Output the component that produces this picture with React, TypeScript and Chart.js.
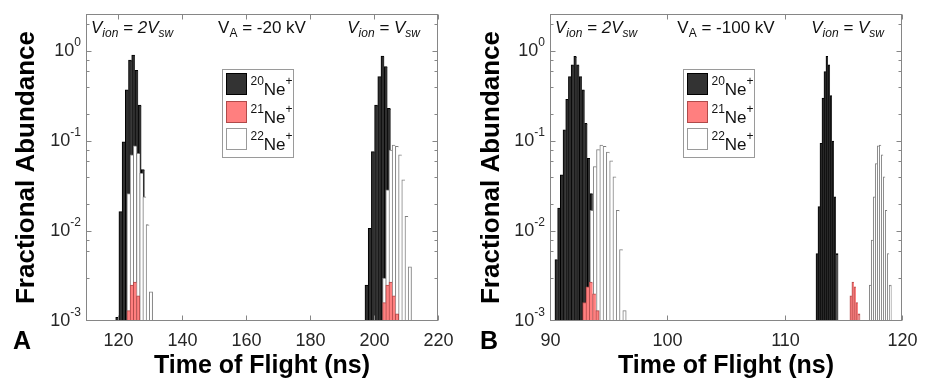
import React, { useEffect, useRef } from 'react';
import { Chart, registerables } from 'chart.js';

Chart.register(...registerables);

const FONT = "'Liberation Sans', Arial, Helvetica, sans-serif";

// ---------------- Panel A  (V_A = -20 kV), bins of ~1 ns ----------------
const aNe20LeftX = [119.8, 120.8, 121.8, 122.8, 123.8, 124.8, 125.8, 126.8, 127.8, 128.8];
const aNe20LeftY = [0.0011, 0.0164, 0.098, 0.37, 0.79, 0.9, 0.61, 0.25, 0.048, 0.0117];
const aNe21LeftX = [123.3, 124.3, 125.3, 126.3];
const aNe21LeftY = [0.0013, 0.0025, 0.0027, 0.0019];
const aNe22LeftX = [123.3, 124.3, 125.3, 126.3, 127.3, 128.3, 129.3, 130.3];
const aNe22LeftY = [0.026, 0.07, 0.088, 0.073, 0.044, 0.024, 0.0117, 0.0021];
const aNe20RightX = [197.7, 198.7, 199.7, 200.7, 201.7, 202.7, 203.7, 204.7, 205.7];
const aNe20RightY = [0.0025, 0.0107, 0.076, 0.25, 0.52, 0.88, 0.67, 0.23, 0.07];
const aNe21RightX = [203.2, 204.2, 205.2, 206.2, 207.2];
const aNe21RightY = [0.0016, 0.0025, 0.0027, 0.0019, 0.0012];
const aNe22RightX = [203.2, 204.2, 205.2, 206.2, 207.2, 208.2, 209.2, 210.2, 211.2];
const aNe22RightY = [0.003, 0.0286, 0.079, 0.09, 0.087, 0.07, 0.037, 0.0145, 0.004];
const aXTicks = [120, 140, 160, 180, 200, 220];

// ---------------- Panel B  (V_A = -100 kV) ----------------
const bNe20LeftX = [90.54, 90.77, 91.0, 91.23, 91.46, 91.69, 91.92, 92.15, 92.38, 92.61, 92.84, 93.07, 93.3, 93.53, 93.76];
const bNe20LeftY = [0.0048, 0.0179, 0.042, 0.133, 0.29, 0.52, 0.7, 0.87, 0.7, 0.52, 0.37, 0.157, 0.064, 0.026, 0.011];
const bNe21LeftX = [92.93, 93.21, 93.49, 93.77, 94.05];
const bNe21LeftY = [0.0016, 0.0024, 0.0027, 0.002, 0.0013];
const bNe22LeftX = [93.55, 93.83, 94.11, 94.39, 94.67, 94.95, 95.23, 95.51, 95.79, 96.07, 96.35];
const bNe22LeftY = [0.017, 0.052, 0.08, 0.09, 0.087, 0.075, 0.06, 0.04, 0.017, 0.0062, 0.0013];
const bNe20RightX = [112.76, 112.93, 113.1, 113.27, 113.44, 113.61, 113.78, 113.95, 114.12, 114.29, 114.46];
const bNe20RightY = [0.0056, 0.0186, 0.094, 0.3, 0.59, 0.87, 0.7, 0.32, 0.1, 0.024, 0.0056];
const bNe21RightX = [115.65, 115.82, 115.99, 116.16, 116.33];
const bNe21RightY = [0.0019, 0.0027, 0.0024, 0.0016, 0.0012];
const bNe22RightX = [117.3, 117.47, 117.64, 117.81, 117.98, 118.15, 118.32, 118.49, 118.66, 118.83, 119.0];
const bNe22RightY = [0.0025, 0.0079, 0.024, 0.056, 0.088, 0.09, 0.07, 0.04, 0.017, 0.0056, 0.0025];
const bXTicks = [90, 100, 110, 120];

// ---------------- shared ----------------
const yMin = 0.001;
const yMax = 2.58;
const yTickExponents = [0, -1, -2, -3];
const isotopes = ['20', '21', '22'];

type Kind = '20' | '21' | '22';
const STYLE: Record<Kind, { bg: string; border: string }> = {
  '20': { bg: '#2f2f2f', border: '#000000' },
  '21': { bg: '#ff7f7f', border: '#b04a4a' },
  '22': { bg: '#ffffff', border: '#808080' },
};

type Series = { xs: number[]; ys: number[]; kind: Kind };
type PanelCfg = {
  letter: string;
  va: string;
  xMin: number;
  xMax: number;
  xTicks: number[];
  padLeft: number;
  padRight: number;
  legendDx: number;
  series: Series[];
};

const CANVAS_W = 465;
const CANVAS_H = 385;

// red drawn on top, then white, then black (dataset 0 is drawn last)
const panelA: PanelCfg = {
  letter: 'A',
  va: ' = -20 kV',
  xMin: 110,
  xMax: 220,
  xTicks: aXTicks,
  padLeft: 86,
  padRight: 27,
  legendDx: 136,
  series: [
    { xs: aNe21LeftX, ys: aNe21LeftY, kind: '21' },
    { xs: aNe21RightX, ys: aNe21RightY, kind: '21' },
    { xs: aNe22LeftX, ys: aNe22LeftY, kind: '22' },
    { xs: aNe22RightX, ys: aNe22RightY, kind: '22' },
    { xs: aNe20LeftX, ys: aNe20LeftY, kind: '20' },
    { xs: aNe20RightX, ys: aNe20RightY, kind: '20' },
  ],
};

const panelB: PanelCfg = {
  letter: 'B',
  va: ' = -100 kV',
  xMin: 90,
  xMax: 120,
  xTicks: bXTicks,
  padLeft: 85,
  padRight: 28,
  legendDx: 133,
  series: [
    { xs: bNe21LeftX, ys: bNe21LeftY, kind: '21' },
    { xs: bNe21RightX, ys: bNe21RightY, kind: '21' },
    { xs: bNe22LeftX, ys: bNe22LeftY, kind: '22' },
    { xs: bNe22RightX, ys: bNe22RightY, kind: '22' },
    { xs: bNe20LeftX, ys: bNe20LeftY, kind: '20' },
    { xs: bNe20RightX, ys: bNe20RightY, kind: '20' },
  ],
};

type Part = { text: string; size: number; italic?: boolean; bold?: boolean; dy?: number };
const fontStr = (p: Part) => `${p.italic ? 'italic ' : ''}${p.bold ? 'bold ' : ''}${p.size}px ${FONT}`;

function drawParts(ctx: CanvasRenderingContext2D, parts: Part[], x: number, y: number, align: 'left' | 'center' | 'right') {
  let w = 0;
  for (const p of parts) {
    ctx.font = fontStr(p);
    w += ctx.measureText(p.text).width;
  }
  let cx = align === 'left' ? x : align === 'center' ? x - w / 2 : x - w;
  ctx.textAlign = 'left';
  ctx.textBaseline = 'alphabetic';
  for (const p of parts) {
    ctx.font = fontStr(p);
    ctx.fillText(p.text, cx, y + (p.dy || 0));
    cx += ctx.measureText(p.text).width;
  }
}

const AXIS = '#868686';
const TEXT = '#262626';

function makeDecor(cfg: PanelCfg) {
  return {
    id: 'decor' + cfg.letter,
    afterDraw(chart: any) {
      const { ctx, chartArea: ca } = chart;
      const xs = chart.scales.x;
      const ys = chart.scales.y;
      const L = Math.round(ca.left) + 0.5;
      const R = Math.round(ca.right) - 0.5;
      const T = Math.round(ca.top) + 0.5;
      const B = Math.round(ca.bottom) - 0.5;
      ctx.save();
      ctx.strokeStyle = AXIS;
      ctx.lineWidth = 1;
      ctx.strokeRect(L, T, R - L, B - T);

      const line = (x1: number, y1: number, x2: number, y2: number) => {
        ctx.beginPath();
        ctx.moveTo(x1, y1);
        ctx.lineTo(x2, y2);
        ctx.stroke();
      };

      // x ticks + labels
      ctx.fillStyle = TEXT;
      for (const v of cfg.xTicks) {
        const px = Math.round(xs.getPixelForValue(v)) + 0.5;
        line(px, B, px, B - 5);
        line(px, T, px, T + 5);
        ctx.font = `18px ${FONT}`;
        ctx.textAlign = 'center';
        ctx.textBaseline = 'middle';
        ctx.fillText(String(v), px, B + 21);
      }

      // y ticks (major + minor from the log scale)
      for (const t of ys.ticks) {
        const v = t.value;
        const e = Math.floor(Math.log10(v) + 1e-9);
        const mant = v / Math.pow(10, e);
        if (Math.abs(mant - Math.round(mant)) > 1e-6) continue;
        const major = Math.round(mant) === 1;
        const len = major ? 5 : 3;
        const py = Math.round(ys.getPixelForValue(v)) + 0.5;
        if (py < T || py > B + 0.1) continue;
        line(L, py, L + len, py);
        line(R, py, R - len, py);
      }
      for (const e of yTickExponents) {
        const py = ys.getPixelForValue(Math.pow(10, e));
        drawParts(ctx, [
          { text: '10', size: 18 },
          { text: String(e), size: 12, dy: -10 },
        ], ca.left - 5, py + 5, 'right');
      }

      // axis titles
      ctx.fillStyle = '#000';
      ctx.textAlign = 'center';
      ctx.textBaseline = 'middle';
      ctx.font = `bold 25px ${FONT}`;
      ctx.fillText('Time of Flight (ns)', (ca.left + ca.right) / 2, 366);
      ctx.save();
      ctx.translate(27, (ca.top + ca.bottom) / 2);
      ctx.rotate(-Math.PI / 2);
      ctx.font = `bold 26px ${FONT}`;
      ctx.fillText('Fractional Abundance', 0, 0);
      ctx.restore();

      // panel letter
      ctx.font = `bold 25px ${FONT}`;
      ctx.textAlign = 'left';
      ctx.textBaseline = 'alphabetic';
      ctx.fillText(cfg.letter, cfg.letter === 'A' ? 13 : 15, 349);

      // annotations
      ctx.fillStyle = '#111';
      const ty = 33;
      drawParts(ctx, [
        { text: 'V', size: 17, italic: true },
        { text: 'ion', size: 12, italic: true, dy: 4 },
        { text: ' = 2', size: 17, italic: true },
        { text: 'V', size: 17, italic: true },
        { text: 'sw', size: 12, italic: true, dy: 4 },
      ], ca.left + 5, ty, 'left');
      drawParts(ctx, [
        { text: 'V', size: 17 },
        { text: 'A', size: 12, dy: 4 },
        { text: cfg.va, size: 17 },
      ], (ca.left + ca.right) / 2, ty, 'center');
      drawParts(ctx, [
        { text: 'V', size: 17, italic: true },
        { text: 'ion', size: 12, italic: true, dy: 4 },
        { text: ' = ', size: 17, italic: true },
        { text: 'V', size: 17, italic: true },
        { text: 'sw', size: 12, italic: true, dy: 4 },
      ], ca.right - 18, ty, 'right');

      // legend
      const bx = Math.round(ca.left + cfg.legendDx) + 0.5;
      const by = 69.5;
      ctx.fillStyle = '#fff';
      ctx.fillRect(bx, by, 71, 88);
      ctx.strokeStyle = '#9a9a9a';
      ctx.strokeRect(bx, by, 71, 88);
      isotopes.forEach((m, i) => {
        const st = STYLE[m as Kind];
        const rt = Math.round(73 + i * 27.5) + 0.5;
        ctx.fillStyle = m === '20' ? '#333333' : st.bg;
        ctx.fillRect(bx + 4, rt, 20, 21);
        ctx.strokeStyle = m === '22' ? '#9a9a9a' : st.border;
        ctx.strokeRect(bx + 4, rt, 20, 21);
        ctx.fillStyle = '#111';
        drawParts(ctx, [
          { text: m, size: 12, dy: -10 },
          { text: 'Ne', size: 17 },
          { text: '+', size: 12, dy: -10 },
        ], bx + 28, rt + 21, 'left');
      });

      ctx.restore();
    },
  };
}

function Panel({ cfg, left }: { cfg: PanelCfg; left: number }) {
  const ref = useRef<HTMLCanvasElement>(null);
  useEffect(() => {
    const canvas = ref.current;
    if (!canvas) return;
    // every histogram gets its own (hidden) x axis with the same range, so that
    // the bar width equals that histogram's own bin spacing
    const scales: any = {
      x: { type: 'linear', min: cfg.xMin, max: cfg.xMax, offset: false, display: false },
      y: { type: 'logarithmic', min: yMin, max: yMax, beginAtZero: false, display: false },
    };
    cfg.series.forEach((_, i) => {
      scales['x' + i] = {
        type: 'linear', axis: 'x', position: 'bottom', min: cfg.xMin, max: cfg.xMax,
        offset: false, display: false, ticks: { stepSize: 10 },
      };
    });
    const chart = new Chart(canvas, {
      type: 'bar',
      data: {
        datasets: cfg.series.map((s, i) => ({
          data: s.xs.map((x, j) => ({ x, y: s.ys[j] })),
          xAxisID: 'x' + i,
          yAxisID: 'y',
          backgroundColor: STYLE[s.kind].bg,
          borderColor: STYLE[s.kind].border,
          borderWidth: (c: any) =>
            c.dataIndex === s.xs.length - 1
              ? { left: 1, top: 1, right: 1, bottom: 0 }
              : { left: 1, top: 1, right: 0, bottom: 0 },
          borderSkipped: false,
          grouped: false,
          categoryPercentage: 1,
          barPercentage: 1,
          inflateAmount: 0.4,
        })),
      } as any,
      options: {
        animation: false,
        responsive: false,
        maintainAspectRatio: false,
        events: [],
        layout: { padding: { left: cfg.padLeft, right: cfg.padRight, top: 14, bottom: 64 } },
        plugins: { legend: { display: false }, tooltip: { enabled: false } },
        scales,
      } as any,
      plugins: [makeDecor(cfg)],
    });
    return () => chart.destroy();
  }, [cfg]);
  return (
    <canvas
      ref={ref}
      width={CANVAS_W}
      height={CANVAS_H}
      style={{ position: 'absolute', left, top: 0, width: CANVAS_W, height: CANVAS_H }}
    />
  );
}

export default function App() {
  return (
    <div style={{ position: 'absolute', left: 0, top: 0, width: 930, height: 385, background: '#fff' }}>
      <Panel cfg={panelA} left={0} />
      <Panel cfg={panelB} left={465} />
    </div>
  );
}
